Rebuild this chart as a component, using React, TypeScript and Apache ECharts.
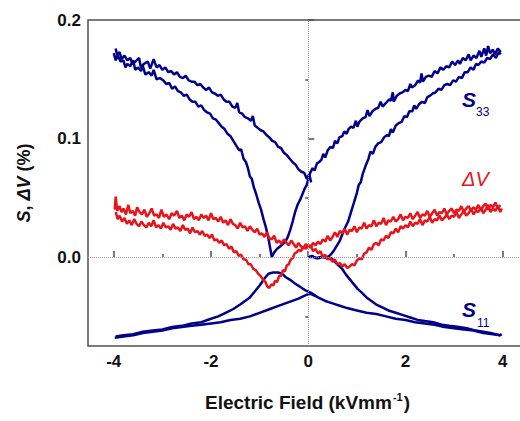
import React, { useEffect, useRef } from "react";
import * as echarts from "echarts";

// Electric field (kV/mm) vs strain / volume change (%)
const s33Descending: [number, number][] = [
  [-4.00,0.172],[-3.96,0.166],[-3.92,0.170],[-3.86,0.165],[-3.80,0.166],[-3.76,0.160],[-3.72,0.163],[-3.66,0.161],[-3.60,0.166],[-3.56,0.158],
  [-3.50,0.160],[-3.44,0.157],[-3.40,0.161],[-3.35,0.154],[-3.28,0.156],[-3.22,0.153],[-3.18,0.158],[-3.12,0.150],[-3.05,0.151],[-2.98,0.149],
  [-2.92,0.146],[-2.86,0.147],[-2.80,0.142],[-2.74,0.144],[-2.68,0.140],[-2.62,0.139],[-2.56,0.136],[-2.50,0.137],[-2.44,0.133],[-2.38,0.131],
  [-2.32,0.131],[-2.26,0.127],[-2.20,0.128],[-2.14,0.124],[-2.08,0.122],[-2.02,0.121],[-1.96,0.117],[-1.90,0.116],[-1.84,0.113],[-1.78,0.110],
  [-1.72,0.108],[-1.66,0.104],[-1.60,0.102],[-1.54,0.098],[-1.48,0.094],[-1.42,0.090],[-1.38,0.091],[-1.33,0.083],[-1.28,0.080],[-1.24,0.075],
  [-1.20,0.068],[-1.16,0.066],[-1.12,0.059],[-1.07,0.053],[-1.02,0.046],[-0.97,0.040],[-0.92,0.032],[-0.87,0.025],[-0.82,0.016],[-0.78,0.007],
  [-0.75,0.000],[-0.70,0.004],[-0.64,0.007],[-0.58,0.009],[-0.52,0.011],[-0.47,0.013],[-0.42,0.017],[-0.37,0.023],[-0.32,0.030],[-0.27,0.038],
  [-0.22,0.044],[-0.17,0.048],[-0.12,0.053],[-0.07,0.058],[-0.03,0.061],[0.00,0.066],
  [0.04,0.071],[0.09,0.075],[0.13,0.073],[0.18,0.079],[0.22,0.080],[0.27,0.082],[0.31,0.087],[0.35,0.084],[0.40,0.090],[0.46,0.093],
  [0.51,0.092],[0.55,0.098],[0.60,0.096],[0.64,0.101],[0.70,0.102],[0.74,0.106],[0.79,0.104],[0.83,0.108],[0.88,0.110],[0.93,0.109],
  [0.98,0.115],[1.01,0.110],[1.05,0.114],[1.12,0.117],[1.18,0.118],[1.22,0.124],[1.26,0.119],[1.32,0.123],[1.38,0.125],[1.44,0.126],
  [1.49,0.131],[1.53,0.127],[1.60,0.130],[1.66,0.133],[1.70,0.132],[1.74,0.139],[1.76,0.131],[1.82,0.136],[1.88,0.138],[1.94,0.139],
  [2.00,0.141],[2.05,0.140],[2.10,0.146],[2.13,0.143],[2.20,0.145],[2.26,0.149],[2.30,0.147],[2.33,0.155],[2.36,0.148],[2.42,0.152],
  [2.48,0.153],[2.54,0.152],[2.60,0.157],[2.66,0.155],[2.72,0.160],[2.78,0.158],[2.84,0.161],[2.90,0.160],[2.96,0.165],[3.02,0.162],
  [3.08,0.166],[3.12,0.163],[3.18,0.168],[3.24,0.166],[3.30,0.171],[3.34,0.166],[3.40,0.170],[3.46,0.168],[3.52,0.174],[3.56,0.169],
  [3.62,0.176],[3.66,0.170],[3.70,0.178],[3.74,0.172],[3.80,0.175],[3.84,0.171],[3.90,0.176],[3.96,0.173]
];

const s33Virgin: [number, number][] = [
  [0.00,0.000],[0.08,0.001],[0.16,-0.001],[0.24,0.000],[0.32,0.001],[0.40,0.000],[0.46,0.002],[0.52,0.005],[0.58,0.009],[0.64,0.013],
  [0.70,0.019],[0.76,0.025],[0.82,0.030],[0.88,0.038],[0.94,0.046],[1.00,0.054],[1.04,0.061],[1.08,0.063],[1.12,0.070],[1.18,0.077],
  [1.24,0.083],[1.28,0.089],[1.33,0.087],[1.38,0.093],[1.44,0.096],[1.50,0.097],[1.56,0.101],[1.62,0.103],[1.66,0.102],[1.70,0.108],
  [1.74,0.105],[1.80,0.111],[1.86,0.113],[1.92,0.114],[1.98,0.119],[2.03,0.118],[2.08,0.123],[2.14,0.123],[2.18,0.128],[2.22,0.125],
  [2.28,0.129],[2.34,0.131],[2.40,0.130],[2.45,0.135],[2.50,0.136],[2.56,0.138],[2.62,0.139],[2.68,0.142],[2.74,0.141],[2.80,0.145],
  [2.86,0.146],[2.92,0.145],[2.98,0.149],[3.04,0.148],[3.10,0.152],[3.16,0.151],[3.22,0.156],[3.28,0.156],[3.34,0.160],[3.40,0.158],
  [3.45,0.163],[3.50,0.162],[3.56,0.165],[3.62,0.164],[3.68,0.168],[3.74,0.167],[3.80,0.171],[3.86,0.168],[3.92,0.173],[3.96,0.171]
];

const s33Ascending: [number, number][] = [
  [-3.96,0.176],[-3.93,0.170],[-3.88,0.173],[-3.84,0.167],[-3.78,0.170],[-3.72,0.166],[-3.66,0.168],[-3.62,0.163],[-3.55,0.165],[-3.48,0.168],
  [-3.44,0.160],[-3.38,0.163],[-3.30,0.165],[-3.25,0.159],[-3.18,0.167],[-3.12,0.160],[-3.06,0.162],[-3.00,0.158],[-2.94,0.160],[-2.88,0.156],
  [-2.82,0.157],[-2.76,0.154],[-2.70,0.156],[-2.64,0.152],[-2.58,0.151],[-2.52,0.153],[-2.46,0.149],[-2.40,0.148],[-2.34,0.148],[-2.28,0.145],
  [-2.22,0.146],[-2.16,0.143],[-2.10,0.141],[-2.04,0.143],[-1.98,0.139],[-1.92,0.138],[-1.86,0.136],[-1.80,0.137],[-1.74,0.133],[-1.68,0.131],
  [-1.62,0.131],[-1.56,0.127],[-1.50,0.126],[-1.46,0.130],[-1.42,0.122],[-1.36,0.121],[-1.30,0.118],[-1.24,0.117],[-1.18,0.115],[-1.14,0.119],
  [-1.10,0.111],[-1.04,0.109],[-0.98,0.107],[-0.92,0.106],[-0.86,0.103],[-0.80,0.101],[-0.74,0.098],[-0.68,0.097],[-0.62,0.093],[-0.56,0.092],
  [-0.50,0.088],[-0.44,0.086],[-0.38,0.083],[-0.32,0.080],[-0.26,0.078],[-0.20,0.074],[-0.14,0.072],[-0.08,0.071],[-0.03,0.066],[0.02,0.070],[0.06,0.063]
];

const s11Upper: [number, number][] = [
  [-3.96,-0.067],[-3.80,-0.066],[-3.60,-0.065],[-3.40,-0.063],[-3.20,-0.062],[-3.00,-0.061],[-2.80,-0.059],[-2.60,-0.058],[-2.40,-0.056],[-2.20,-0.055],
  [-2.00,-0.052],[-1.85,-0.050],[-1.70,-0.047],[-1.55,-0.044],[-1.40,-0.040],[-1.30,-0.037],[-1.20,-0.034],[-1.10,-0.029],[-1.00,-0.024],[-0.90,-0.018],
  [-0.82,-0.014],[-0.72,-0.013],[-0.62,-0.013],[-0.54,-0.014],[-0.46,-0.017],[-0.38,-0.019],[-0.28,-0.022],[-0.17,-0.025],[-0.06,-0.028],[0.05,-0.030],
  [0.20,-0.034],[0.35,-0.037],[0.50,-0.039],[0.65,-0.041],[0.80,-0.043],[1.00,-0.045],[1.20,-0.047],[1.40,-0.048],[1.60,-0.050],[1.80,-0.052],
  [2.00,-0.053],[2.20,-0.055],[2.40,-0.056],[2.60,-0.057],[2.80,-0.059],[3.00,-0.060],[3.20,-0.061],[3.40,-0.062],[3.60,-0.064],[3.80,-0.065],[3.95,-0.066]
];

const s11Lower: [number, number][] = [
  [-3.98,-0.068],[-3.80,-0.067],[-3.60,-0.066],[-3.40,-0.064],[-3.20,-0.063],[-3.00,-0.062],[-2.80,-0.060],[-2.60,-0.059],[-2.40,-0.058],[-2.20,-0.057],
  [-2.00,-0.056],[-1.80,-0.055],[-1.60,-0.053],[-1.40,-0.052],[-1.20,-0.050],[-1.00,-0.047],[-0.80,-0.044],[-0.60,-0.041],[-0.40,-0.038],[-0.20,-0.035],
  [-0.05,-0.032],[0.05,-0.031],[0.15,-0.033]
];

const s11Virgin: [number, number][] = [
  [0.00,0.000],[0.10,0.000],[0.20,-0.001],[0.30,0.000],[0.40,-0.001],[0.48,-0.001],[0.55,-0.004],[0.62,-0.007],[0.70,-0.010],[0.78,-0.015],
  [0.86,-0.019],[0.94,-0.023],[1.02,-0.027],[1.10,-0.030],[1.20,-0.034],[1.30,-0.037],[1.40,-0.040],[1.50,-0.042],[1.65,-0.045],[1.80,-0.047],
  [1.95,-0.049],[2.10,-0.051],[2.25,-0.053],[2.40,-0.054],[2.57,-0.055],[2.75,-0.057],[2.90,-0.058],[3.10,-0.059],[3.26,-0.060],[3.45,-0.062],
  [3.60,-0.063],[3.75,-0.064],[3.85,-0.065],[3.94,-0.066],[3.98,-0.065]
];

const dvBranch1: [number, number][] = [
  [-3.98,0.040],[-3.96,0.051],[-3.93,0.039],[-3.88,0.043],[-3.84,0.038],[-3.80,0.041],[-3.75,0.036],[-3.70,0.044],[-3.66,0.037],[-3.61,0.039],
  [-3.56,0.035],[-3.52,0.042],[-3.47,0.038],[-3.42,0.036],[-3.37,0.040],[-3.32,0.034],[-3.27,0.037],[-3.22,0.041],[-3.17,0.035],[-3.12,0.036],
  [-3.07,0.033],[-3.02,0.040],[-2.97,0.034],[-2.92,0.036],[-2.86,0.032],[-2.81,0.037],[-2.76,0.035],[-2.70,0.039],[-2.65,0.033],[-2.60,0.035],
  [-2.55,0.031],[-2.50,0.036],[-2.45,0.034],[-2.40,0.038],[-2.35,0.032],[-2.30,0.034],[-2.25,0.031],[-2.20,0.036],[-2.15,0.033],[-2.10,0.035],
  [-2.05,0.031],[-2.00,0.037],[-1.95,0.032],[-1.90,0.033],[-1.85,0.030],[-1.80,0.034],[-1.75,0.029],[-1.70,0.031],[-1.65,0.027],[-1.60,0.032],
  [-1.55,0.028],[-1.50,0.027],[-1.45,0.024],[-1.40,0.029],[-1.35,0.025],[-1.30,0.026],[-1.25,0.022],[-1.20,0.026],[-1.15,0.023],[-1.10,0.021],
  [-1.05,0.024],[-1.00,0.019],[-0.95,0.020],[-0.90,0.017],[-0.85,0.021],[-0.80,0.016],[-0.75,0.015],[-0.70,0.018],[-0.65,0.012],[-0.60,0.014],
  [-0.55,0.011],[-0.50,0.015],[-0.45,0.012],[-0.40,0.010],[-0.35,0.014],[-0.30,0.011],[-0.25,0.008],[-0.20,0.012],[-0.15,0.009],[-0.10,0.007],
  [-0.05,0.011],[0.00,0.008],[0.05,0.010],[0.10,0.005],[0.15,0.007],[0.20,0.003],[0.25,0.005],[0.30,0.000],[0.35,0.002],[0.40,-0.002],
  [0.45,-0.001],[0.50,-0.004],[0.55,-0.002],[0.60,-0.006],[0.65,-0.005],[0.70,-0.008],[0.75,-0.006],[0.80,-0.009],[0.85,-0.008],[0.90,-0.006],
  [0.95,-0.007],[1.00,-0.003],[1.05,-0.001],[1.10,-0.002],[1.15,0.003],[1.20,0.004],[1.25,0.008],[1.30,0.006],[1.35,0.011],[1.40,0.012],
  [1.45,0.010],[1.50,0.015],[1.55,0.014],[1.60,0.018],[1.65,0.016],[1.70,0.021],[1.75,0.020],[1.80,0.024],[1.85,0.021],[1.90,0.026],
  [1.95,0.024],[2.00,0.027],[2.05,0.025],[2.10,0.030],[2.15,0.026],[2.20,0.029],[2.25,0.028],[2.30,0.032],[2.35,0.027],[2.40,0.031],
  [2.45,0.030],[2.50,0.034],[2.55,0.029],[2.60,0.032],[2.65,0.031],[2.70,0.035],[2.75,0.031],[2.80,0.033],[2.85,0.036],[2.90,0.032],
  [2.95,0.035],[3.00,0.034],[3.05,0.038],[3.10,0.033],[3.15,0.036],[3.20,0.039],[3.25,0.035],[3.30,0.037],[3.35,0.041],[3.40,0.036],
  [3.45,0.039],[3.50,0.038],[3.55,0.042],[3.60,0.037],[3.65,0.040],[3.70,0.044],[3.75,0.038],[3.80,0.041],[3.85,0.039],[3.90,0.043],
  [3.95,0.038],[3.98,0.041]
];

const dvBranch2: [number, number][] = [
  [-3.96,0.038],[-3.92,0.032],[-3.88,0.035],[-3.83,0.030],[-3.78,0.033],[-3.73,0.028],[-3.68,0.031],[-3.63,0.027],[-3.58,0.032],[-3.53,0.028],
  [-3.48,0.026],[-3.43,0.030],[-3.38,0.027],[-3.33,0.025],[-3.28,0.029],[-3.23,0.026],[-3.18,0.031],[-3.13,0.025],[-3.08,0.027],[-3.03,0.024],
  [-2.98,0.029],[-2.93,0.025],[-2.88,0.026],[-2.83,0.023],[-2.78,0.028],[-2.73,0.024],[-2.68,0.025],[-2.63,0.022],[-2.58,0.027],[-2.53,0.023],
  [-2.48,0.024],[-2.43,0.020],[-2.38,0.025],[-2.33,0.021],[-2.28,0.022],[-2.23,0.019],[-2.18,0.022],[-2.13,0.018],[-2.08,0.019],[-2.03,0.016],
  [-1.98,0.019],[-1.93,0.014],[-1.88,0.015],[-1.83,0.012],[-1.78,0.014],[-1.73,0.010],[-1.68,0.011],[-1.63,0.007],[-1.58,0.009],[-1.53,0.004],
  [-1.48,0.005],[-1.43,0.001],[-1.38,0.002],[-1.33,-0.002],[-1.28,-0.002],[-1.23,-0.006],[-1.18,-0.006],[-1.13,-0.010],[-1.08,-0.011],[-1.03,-0.014],
  [-0.98,-0.016],[-0.93,-0.019],[-0.88,-0.021],[-0.84,-0.025],[-0.80,-0.026],[-0.76,-0.023],[-0.72,-0.024],[-0.68,-0.020],[-0.64,-0.021],[-0.60,-0.016],
  [-0.56,-0.016],[-0.52,-0.011],[-0.48,-0.012],[-0.44,-0.007],[-0.40,-0.006],[-0.36,-0.002],[-0.32,-0.001],[-0.28,0.003],[-0.24,0.004],[-0.20,0.006],
  [-0.15,0.005],[-0.10,0.009],[-0.05,0.007],[0.00,0.010],[0.05,0.008],[0.10,0.012],[0.15,0.010],[0.20,0.013],[0.25,0.011],[0.30,0.015],
  [0.35,0.013],[0.40,0.018],[0.45,0.014],[0.50,0.017],[0.55,0.021],[0.60,0.017],[0.65,0.022],[0.70,0.020],[0.75,0.024],[0.80,0.019],
  [0.85,0.023],[0.90,0.022],[0.95,0.026],[1.00,0.021],[1.05,0.025],[1.10,0.024],[1.15,0.029],[1.20,0.024],[1.25,0.027],[1.30,0.026],
  [1.35,0.031],[1.40,0.026],[1.45,0.029],[1.50,0.028],[1.55,0.033],[1.60,0.027],[1.65,0.031],[1.70,0.030],[1.75,0.034],[1.80,0.030],
  [1.85,0.032],[1.90,0.036],[1.95,0.031],[2.00,0.034],[2.05,0.033],[2.10,0.037],[2.15,0.032],[2.20,0.035],[2.25,0.038],[2.30,0.033],
  [2.35,0.036],[2.40,0.035],[2.45,0.039],[2.50,0.034],[2.55,0.037],[2.60,0.040],[2.65,0.035],[2.70,0.038],[2.75,0.037],[2.80,0.041],
  [2.85,0.036],[2.90,0.039],[2.95,0.041],[3.00,0.037],[3.05,0.040],[3.10,0.039],[3.15,0.043],[3.20,0.038],[3.25,0.041],[3.30,0.043],
  [3.35,0.039],[3.40,0.042],[3.45,0.040],[3.50,0.044],[3.55,0.039],[3.60,0.043],[3.65,0.045],[3.70,0.040],[3.75,0.044],[3.80,0.042],
  [3.85,0.046],[3.90,0.041],[3.95,0.044]
];

const xMajorTicks = [-4, -2, 0, 2, 4];
const xMinorTicks = [-3, -1, 1, 3];
const yMajorTicks = [0, 0.1, 0.2];
const yMinorTicks = [-0.05, 0.05, 0.15];

const BLUE = "#00008B";
const RED = "#E8141C";
const AXIS = "#505050";
const FONT = "Liberation Sans, Arial, sans-serif";

export default function App() {
  const ref = useRef<HTMLDivElement>(null);
  useEffect(() => {
    if (!ref.current) return;
    const chart = echarts.init(ref.current, undefined, { renderer: "svg" });
    const xMin = -4.53, xMax = 4.5, yMin = -0.075, yMax = 0.2;
    const line = (data: [number, number][], color: string, extra: any = {}) => ({
      type: "line", data, showSymbol: false, symbol: "none", silent: true,
      lineStyle: { color, width: 2.5 }, ...extra,
    });
    chart.setOption({
      animation: false,
      grid: {
        left: 88, top: 20, width: 439, height: 326, show: true,
        borderColor: AXIS, borderWidth: 1.5, backgroundColor: "transparent",
        outerBoundsMode: "none", containLabel: false,
      },
      xAxis: [
        {
          type: "value", min: xMin, max: xMax,
          axisLine: { show: false },
          axisTick: { show: true, inside: true, length: 6, customValues: xMajorTicks, lineStyle: { color: AXIS, width: 1.5 } },
          axisLabel: { customValues: xMajorTicks, fontFamily: FONT, fontWeight: "bold", fontSize: 17, color: "#111", margin: 7 },
          splitLine: { show: false },
          name: "{t|Electric Field (kVmm}{s|-1}{t|)}",
          nameLocation: "middle", nameGap: 45,
          nameTextStyle: {
            rich: {
              t: { fontFamily: FONT, fontWeight: "bold", fontSize: 19, color: "#111" },
              s: { fontFamily: FONT, fontWeight: "bold", fontSize: 11, color: "#111", padding: [0, 1, 11, 1] },
            },
          },
        },
        {
          type: "value", min: xMin, max: xMax, position: "bottom",
          axisLine: { show: false },
          axisTick: { show: true, inside: true, length: 3, customValues: xMinorTicks, lineStyle: { color: AXIS, width: 1.5 } },
          axisLabel: { show: false }, splitLine: { show: false },
        },
      ],
      yAxis: [
        {
          type: "value", min: yMin, max: yMax,
          axisLine: { show: false },
          axisTick: { show: true, inside: true, length: 6, customValues: yMajorTicks, lineStyle: { color: AXIS, width: 1.5 } },
          axisLabel: { customValues: yMajorTicks, formatter: (v: number) => v.toFixed(1), fontFamily: FONT, fontWeight: "bold", fontSize: 17, color: "#111", margin: 7 },
          splitLine: { show: false },
          name: "{i|S}{t|, }{i|ΔV}{t| (%)}",
          nameLocation: "middle", nameGap: 55, nameRotate: 90,
          nameTextStyle: {
            rich: {
              t: { fontFamily: FONT, fontWeight: "bold", fontSize: 18, color: "#111" },
              i: { fontFamily: FONT, fontWeight: "bold", fontStyle: "italic", fontSize: 18, color: "#111" },
            },
          },
        },
        {
          type: "value", min: yMin, max: yMax,
          axisLine: { show: false },
          axisTick: { show: true, inside: true, length: 3, customValues: yMinorTicks, lineStyle: { color: AXIS, width: 1.5 } },
          axisLabel: { show: false }, splitLine: { show: false },
        },
      ],
      series: [
        line(s33Descending, BLUE, {
          markLine: {
            silent: true, symbol: ["none", "none"], label: { show: false },
            lineStyle: { type: "dotted", color: "#999", width: 1 },
            data: [{ xAxis: 0 }, { yAxis: 0 }],
          },
        }),
        line(s33Virgin, BLUE),
        line(s33Ascending, BLUE),
        line(s11Upper, BLUE),
        line(s11Lower, BLUE),
        line(s11Virgin, BLUE),
        line(dvBranch1, RED),
        line(dvBranch2, RED),
      ],
      graphic: [
        { type: "text", x: 462, y: 89, style: { text: "S", fontFamily: FONT, fontWeight: "bold", fontStyle: "italic", fontSize: 21, fill: BLUE, verticalAlign: "top" } },
        { type: "text", x: 476, y: 106, style: { text: "33", fontFamily: FONT, fontSize: 12, fill: BLUE, verticalAlign: "top" } },
        { type: "text", x: 462, y: 169, style: { text: "ΔV", fontFamily: FONT, fontStyle: "italic", fontSize: 20, fill: RED, verticalAlign: "top" } },
        { type: "text", x: 462, y: 299, style: { text: "S", fontFamily: FONT, fontWeight: "bold", fontStyle: "italic", fontSize: 21, fill: BLUE, verticalAlign: "top" } },
        { type: "text", x: 477, y: 317, style: { text: "11", fontFamily: FONT, fontSize: 12, fill: BLUE, verticalAlign: "top" } },
      ],
    });
    return () => chart.dispose();
  }, []);
  return <div ref={ref} style={{ width: 520, height: 421, position: "absolute", left: 0, top: 0 }} />;
}
